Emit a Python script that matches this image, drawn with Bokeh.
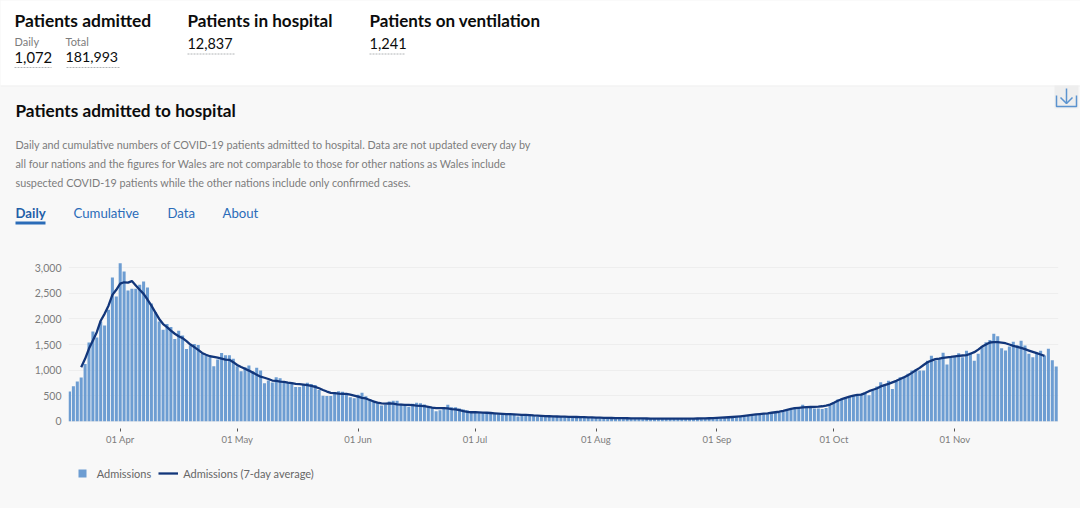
from datetime import date, timedelta, datetime
from bokeh.plotting import figure
from bokeh.layouts import column
from bokeh.models import (Legend, LegendItem, FixedTicker, Label,
                          DatetimeTickFormatter, NumeralTickFormatter, Range1d, ColumnDataSource)
from bokeh.embed import file_html
from bokeh.resources import INLINE

admissions_mar = [580,685,776,854,1120,1540,1754,1636,1950,1870,2180,2810,2440]
admissions_apr = [3090,2930,2555,2590,2590,2667,2730,2615,2300,2130,1950,1790,1900,1840,1610,1770,1675,1410,1480,1510,1490,1320,1285,1250,1075,1205,1335,1290,1290,1220]
admissions_may = [1075,978,1055,1090,978,1043,990,743,795,756,860,840,782,763,750,670,670,717,750,730,710,610,500,495,495,565,585,575,545,470,450]
admissions_jun = [515,555,490,435,405,370,305,320,385,400,400,340,305,285,340,360,350,325,290,275,195,215,255,320,275,275,250,230,215,175]
admissions_jul = [190,175,170,165,160,150,135,150,145,140,120,90,125,130,125,105,85,110,105,95,100,90,85,80,75,70,85,80,75,70,70]
admissions_aug = [65,60,60,58,55,50,60,62,58,55,50,48,52,55,50,48,45,48,50,50,45,42,45,48,50,48,50,45,50,52,55]
admissions_sep = [65,60,58,68,78,88,85,95,110,125,135,140,145,150,165,175,170,190,215,235,270,265,320,270,280,250,250,240,260,305]
admissions_oct = [370,425,450,470,490,510,500,535,554,508,613,680,763,717,789,632,795,860,874,926,991,1010,991,991,1180,1278,1187,1219,1337,1108,1239]
admissions_nov = [1265,1330,1252,1376,1337,1180,1317,1473,1545,1590,1708,1662,1428,1382,1460,1552,1486,1571,1480,1317,1252,1337,1376,1284,1415,1193,1069]

average_mar = [1056,1220,1420,1580,1740,1965,2100,2260,2470,2570]
average_apr = [2690,2717,2710,2740,2655,2570,2490,2380,2260,2130,2000,1900,1840,1770,1710,1660,1625,1565,1500,1450,1395,1335,1300,1270,1260,1245,1225,1205,1200,1155]
average_may = [1100,1060,1025,990,950,910,870,850,825,795,790,775,770,755,745,730,725,717,705,690,670,645,610,580,555,550,540,535,535,520,500]
average_jun = [480,455,445,415,385,365,350,345,350,345,330,325,320,320,315,305,300,295,280,265,255,255,255,250,235,230,215,195,183,175]
average_jul = [175,172,168,165,160,155,150,145,140,137,134,130,125,122,118,112,108,104,100,97,94,92,90,88,86,84,82,80,78,76,74]
average_aug = [70,68,66,65,63,62,60,60,58,57,56,55,54,53,52,51,50,50,50,49,49,49,50,50,51,52,53,54,56,58,60]
average_sep = [65,68,72,77,82,88,95,103,112,122,132,140,147,155,165,175,185,200,220,240,255,262,270,275,278,280,285,292,305,325]
average_oct = [360,400,430,455,480,500,515,520,550,587,615,640,680,705,730,760,790,825,860,900,945,995,1043,1100,1154,1185,1213,1225,1239,1250,1258]
average_nov = [1268,1278,1285,1291,1320,1350,1400,1460,1500,1539,1545,1545,1535,1525,1500,1473,1455,1434,1408,1382,1356,1330,1305,1278]

y_ticks = [0, 500, 1000, 1500, 2000, 2500, 3000]
x_tick_dates = [date(2020, 4, 1), date(2020, 5, 1), date(2020, 6, 1), date(2020, 7, 1),
                date(2020, 8, 1), date(2020, 9, 1), date(2020, 10, 1), date(2020, 11, 1)]

admissions = (admissions_mar + admissions_apr + admissions_may + admissions_jun + admissions_jul
              + admissions_aug + admissions_sep + admissions_oct + admissions_nov)
average = (average_mar + average_apr + average_may + average_jun + average_jul
           + average_aug + average_sep + average_oct + average_nov)

def dt(d):
    return datetime(d.year, d.month, d.day)

bar_dates = [dt(date(2020, 3, 19) + timedelta(days=i)) for i in range(len(admissions))]
avg_dates = [dt(date(2020, 3, 22) + timedelta(days=i)) for i in range(len(average))]

DAY_MS = 86400000
W, H = 1080, 508
SPLIT = 250                      # page y at which the header figure ends
FL, FR, FT, FB = 68, 1058, 258, 420.7   # plot edges and baseline in page pixels
PX_DAY = 3.9
APR1_PX = 119.7
PX_VAL = 0.05113

GREY = "#f8f8f8"
FONT = "Lato"
BLACK = "#0b0c0c"
MUTED = "#7c7c7c"
BLUE = "#2b6cb8"

# ---------- header: its frame fills the figure, data units are page pixels ----------
h = figure(width=W, height=SPLIT, output_backend="svg", toolbar_location=None,
           x_range=Range1d(0, W), y_range=Range1d(SPLIT, 0), x_axis_location=None, y_axis_location=None,
           min_border=0, background_fill_color=GREY, background_fill_alpha=1,
           border_fill_color=GREY, border_fill_alpha=1, outline_line_color=None,
           styles={"background-color": GREY})
h.grid.visible = False
h.frame_align = False

def text(x, y, s, size, color, bold=False):
    h.add_layout(Label(x=x, y=y, text=s, text_font=FONT, text_font_size=f"{size}px", text_color=color,
                       text_font_style="bold" if bold else "normal",
                       text_baseline="middle", text_align="left"))

h.quad(left=[0], right=[W], top=[0], bottom=[85], fill_color="#ffffff", line_color=None)
h.segment([0], [85.5], [W], [85.5], line_color="#f0f0f0", line_width=1)

text(14, 20, "Patients admitted", 17.4, BLACK, True)
text(187, 20, "Patients in hospital", 17.1, BLACK, True)
text(369, 20, "Patients on ventilation", 17, BLACK, True)
text(14, 40.5, "Daily", 11, MUTED)
text(65, 40.5, "Total", 11, MUTED)
text(14, 56.5, "1,072", 14.8, BLACK)
text(65, 56.5, "181,993", 14.2, BLACK)
text(187, 42.5, "12,837", 14.4, BLACK)
text(369, 42.5, "1,241", 14.6, BLACK)
h.segment([14, 66, 187, 369], [67, 67, 53.5, 53.5], [51, 119, 234, 405], [67, 67, 53.5, 53.5],
          line_color="#b1b4b6", line_width=1, line_dash="2 1")

text(15, 110, "Patients admitted to hospital", 17.2, BLACK, True)
text(15, 143.5, "Daily and cumulative numbers of COVID-19 patients admitted to hospital. Data are not updated every day by", 10.8, MUTED)
text(15, 162.5, "all four nations and the figures for Wales are not comparable to those for other nations as Wales include", 10.8, MUTED)
text(15, 181.5, "suspected COVID-19 patients while the other nations include only confirmed cases.", 10.8, MUTED)
text(15, 212, "Daily", 13.2, "#1f5fa8", True)
text(73, 212, "Cumulative", 13.2, BLUE)
text(167, 212, "Data", 13.2, BLUE)
text(222, 212, "About", 13.2, BLUE)
h.quad(left=[15], right=[45], top=[221], bottom=[224], fill_color=BLUE, line_color=None)

# download icon
ICON = "#5b93cf"
h.quad(left=[1054], right=[1078], top=[85], bottom=[108], fill_color="#eeeeee", line_color=None)
h.multi_line([[1056, 1056, 1076, 1076], [1066, 1066], [1060, 1066, 1072]],
             [[95, 106, 106, 95], [88, 103], [97, 103, 97]], line_color=ICON, line_width=1.5)

# ---------- chart: the frame reaches the page bottom so the legend can sit inside it ----------
x0 = dt(date(2020, 4, 1)) + timedelta(days=(FL - APR1_PX) / PX_DAY)
x1 = dt(date(2020, 4, 1)) + timedelta(days=(FR - APR1_PX) / PX_DAY)

p = figure(width=W, height=H - SPLIT, output_backend="svg", toolbar_location=None, x_axis_type="datetime",
           x_range=Range1d(x0, x1), y_range=Range1d(-(H - FB) / PX_VAL, (FB - FT) / PX_VAL),
           min_border_left=FL, min_border_right=W - FR, min_border_top=FT - SPLIT, min_border_bottom=0,
           background_fill_color=GREY, background_fill_alpha=1,
           border_fill_color=GREY, border_fill_alpha=1, outline_line_color=None,
           styles={"background-color": GREY})
p.frame_align = False

BAR = "#6d9dd2"
LINE = "#12367a"
src = ColumnDataSource(dict(x=bar_dates, y=admissions))
bars = p.vbar(x="x", top="y", width=0.78 * DAY_MS, source=src, fill_color=BAR, line_color=None)
swatch = p.scatter(x="x", y="y", source=src, size=0, marker="square", fill_color=BAR, line_color=None)
line = p.line(avg_dates, average, line_color=LINE, line_width=2.3, line_join="round")

yaxis = p.yaxis[0]
yaxis.ticker = FixedTicker(ticks=y_ticks)
yaxis.formatter = NumeralTickFormatter(format="0,0")
yaxis.axis_line_color = None
yaxis.major_tick_line_color = None
yaxis.major_tick_out = 0
yaxis.major_tick_in = 0
yaxis.minor_tick_line_color = None
yaxis.major_label_text_color = MUTED
yaxis.major_label_text_font = FONT
yaxis.major_label_text_font_size = "10.5px"
yaxis.major_label_standoff = 7

xaxis = p.xaxis[0]
xaxis.fixed_location = 0
xaxis.ticker = FixedTicker(ticks=[dt(d).timestamp() * 1000 for d in x_tick_dates])
xaxis.formatter = DatetimeTickFormatter(days="%d %b", months="%d %b")
xaxis.axis_line_color = None
xaxis.major_tick_in = -7
xaxis.major_tick_out = 10
xaxis.major_tick_line_color = "#555555"
xaxis.minor_tick_line_color = None
xaxis.major_label_text_color = MUTED
xaxis.major_label_text_font = FONT
xaxis.major_label_text_font_size = "9.5px"
xaxis.major_label_standoff = 3

p.xgrid.grid_line_color = None
p.ygrid.ticker = FixedTicker(ticks=y_ticks)
p.ygrid.grid_line_color = "#eeeeee"
p.ygrid.grid_line_width = 1

legend = Legend(items=[LegendItem(label="Admissions", renderers=[swatch]),
                       LegendItem(label="Admissions (7-day average)", renderers=[line])],
                orientation="horizontal", location=(71.7 - FL, H - 483.3), background_fill_alpha=0,
                border_line_color=None, padding=0, margin=0, spacing=7, glyph_width=20, glyph_height=20,
                label_standoff=5, label_text_font=FONT, label_text_font_size="11px", label_text_color="#666666",
                label_height=20)
p.add_layout(legend, "center")

page = column(h, p, spacing=0)
open("out.html", "w").write(file_html(page, INLINE))
